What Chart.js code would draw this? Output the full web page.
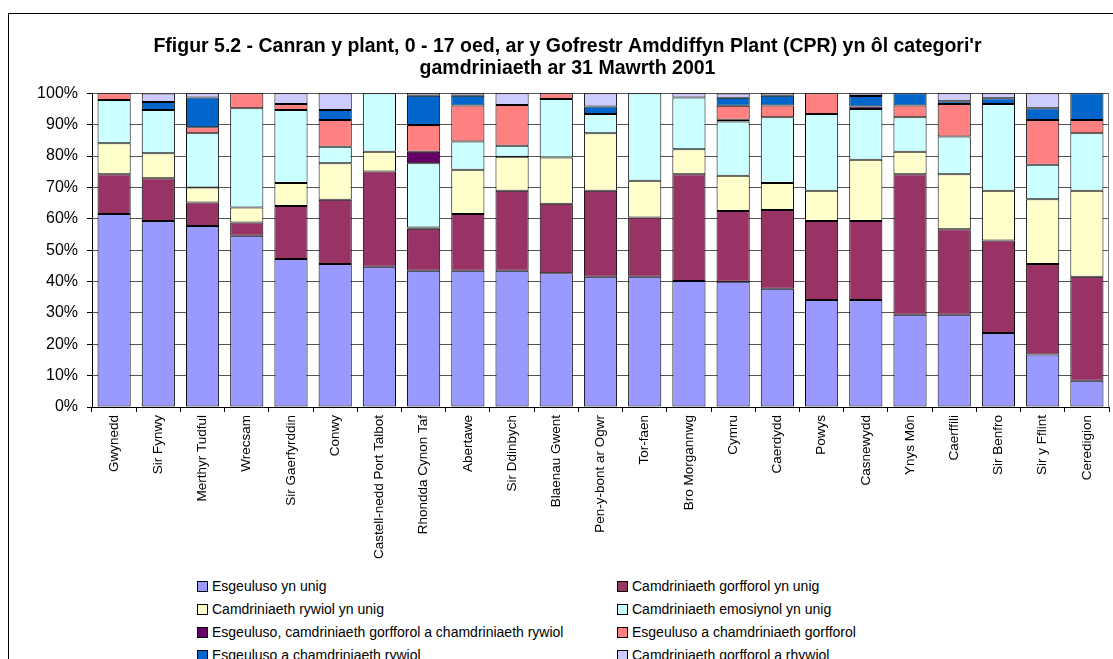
<!DOCTYPE html>
<html>
<head>
<meta charset="utf-8">
<script src="https://cdn.jsdelivr.net/npm/chart.js@4"></script>
<style>
html, body { margin: 0; padding: 0; background: #fff; overflow: hidden; }
body { width: 1113px; height: 659px; position: relative; font-family: "Liberation Sans", Arial, sans-serif; }
#frame { position: absolute; left: 8px; top: 13px; width: 1200px; height: 800px; border: 1px solid #000; box-sizing: border-box; }
#chart { position: absolute; left: 0; top: 0; }
.item { position: absolute; font-size: 14px; line-height: 16px; color: #000; white-space: nowrap; }
.item .box { position: absolute; left: -15px; top: 3px; width: 9px; height: 9px; border: 1px solid #000; }
</style>
</head>
<body>
<div id="frame"></div>
<canvas id="chart" width="1113" height="575"></canvas>
<div id="legend"></div>
<script>
var categories = ['Gwynedd', 'Sir Fynwy', 'Merthyr Tudful', 'Wrecsam', 'Sir Gaerfyrddin', 'Conwy',
    'Castell-nedd Port Talbot', 'Rhondda Cynon Taf', 'Abertawe', 'Sir Ddinbych', 'Blaenau Gwent',
    'Pen-y-bont ar Ogwr', 'Tor-faen', 'Bro Morgannwg', 'Cymru', 'Caerdydd', 'Powys', 'Casnewydd',
    'Ynys Môn', 'Caerffili', 'Sir Benfro', 'Sir y Fflint', 'Ceredigion'];

var seriesNames = [
    'Esgeuluso yn unig',
    'Camdriniaeth gorfforol yn unig',
    'Camdriniaeth rywiol yn unig',
    'Camdriniaeth emosiynol yn unig',
    'Esgeuluso, camdriniaeth gorfforol a chamdriniaeth rywiol',
    'Esgeuluso a chamdriniaeth gorfforol',
    'Esgeuluso a chamdriniaeth rywiol',
    'Camdriniaeth gorfforol a rhywiol'
];

// percentages, one value per category
var esgeulusoUnig = [61.5, 59.3, 57.7, 54.6, 47.2, 45.6, 44.7, 43.4, 43.4, 43.4, 42.6, 41.5, 41.5, 40.2, 39.9, 37.7, 34.1, 34.1, 29.4, 29.4, 23.6, 16.7, 8.4];
var gorfforolUnig = [12.7, 13.6, 7.5, 4.2, 16.9, 20.5, 30.4, 13.4, 18.1, 25.5, 22.2, 27.4, 18.9, 34.0, 22.6, 25.1, 25.2, 25.2, 44.8, 27.3, 29.5, 28.9, 33.1];
var rywiolUnig = [9.9, 8.0, 4.8, 4.8, 7.3, 11.6, 6.3, 0.4, 14.1, 10.9, 14.7, 18.4, 11.7, 8.0, 11.2, 8.6, 9.6, 19.5, 7.2, 17.5, 15.8, 20.6, 27.4];
var emosiynolUnig = [13.8, 13.8, 17.3, 31.6, 23.3, 5.3, 18.6, 20.5, 9.0, 3.5, 18.7, 6.1, 27.9, 16.5, 17.3, 21.0, 24.5, 16.2, 11.0, 12.0, 27.7, 11.0, 18.4];
var esgGorfRyw = [0, 0, 0, 0, 0, 0, 0, 3.7, 0, 0, 0, 0, 0, 0, 0.6, 0, 0, 0.8, 0, 0, 0, 0, 0];
var esgGorfforol = [2.1, 0, 1.9, 4.8, 1.9, 8.5, 0, 8.5, 11.5, 13.0, 1.8, 0, 0, 0, 4.4, 3.7, 6.6, 0, 3.7, 10.4, 0, 14.3, 4.2];
var esgRywiol = [0, 2.5, 9.5, 0, 0, 3.2, 0, 9.3, 3.1, 0, 0, 2.4, 0, 0, 2.6, 3.1, 0, 3.3, 3.9, 0.9, 1.8, 3.7, 8.5];
var gorfRhywiol = [0, 2.7, 1.3, 0, 3.4, 5.3, 0, 0.8, 0.8, 3.7, 0, 4.2, 0, 1.3, 1.3, 0.8, 0, 0.8, 0, 2.5, 1.6, 4.8, 0];

var seriesData = [esgeulusoUnig, gorfforolUnig, rywiolUnig, emosiynolUnig, esgGorfRyw, esgGorfforol, esgRywiol, gorfRhywiol];
var seriesColors = ['#9999FF', '#993366', '#FFFFCC', '#CCFFFF', '#660066', '#FF8080', '#0066CC', '#CCCCFF'];

var yTicks = [0, 10, 20, 30, 40, 50, 60, 70, 80, 90, 100];

var datasets = seriesNames.map(function (name, i) {
    return {
        label: name,
        data: seriesData[i],
        backgroundColor: seriesColors[i],
        borderColor: '#000',
        borderWidth: 1,
        borderSkipped: false,
        categoryPercentage: 1.0,
        barPercentage: 0.75
    };
});

// gray right edge of the plot area
var plotBorder = {
    id: 'plotBorder',
    beforeDatasetsDraw: function (chart) {
        var a = chart.chartArea;
        var c = chart.ctx;
        c.save();
        c.strokeStyle = '#808080';
        c.lineWidth = 1;
        c.beginPath();
        c.moveTo(Math.round(a.right) - 0.5, a.top);
        c.lineTo(Math.round(a.right) - 0.5, a.bottom);
        c.stroke();
        c.restore();
    }
};

var ctx = document.getElementById('chart').getContext('2d');
var chart = new Chart(ctx, {
    type: 'bar',
    data: { labels: categories, datasets: datasets },
    plugins: [plotBorder],
    options: {
        responsive: false,
        animation: false,
        layout: { padding: { left: 26, right: 4, top: 0, bottom: 0 } },
        plugins: {
            legend: { display: false },
            tooltip: { enabled: false },
            title: {
                display: true,
                text: ["Ffigur 5.2 - Canran y plant, 0 - 17 oed, ar y Gofrestr Amddiffyn Plant (CPR) yn ôl categori'r",
                    'gamdriniaeth ar 31 Mawrth 2001'],
                color: '#000',
                font: { family: '"Liberation Sans", Arial, sans-serif', size: 19.5, weight: 'bold', lineHeight: 1.1 },
                padding: { top: 36, bottom: 14.4 }
            }
        },
        scales: {
            x: {
                stacked: true,
                grid: { drawOnChartArea: false, color: '#000', tickLength: 5, offset: true },
                border: { color: '#000', width: 1 },
                ticks: {
                    color: '#000',
                    autoSkip: false,
                    maxRotation: 90,
                    minRotation: 90,
                    padding: 3,
                    font: { family: '"Liberation Sans", Arial, sans-serif', size: 13.5 }
                },
                afterFit: function (scale) { scale.height = 168; }
            },
            y: {
                stacked: true,
                min: 0,
                max: 100,
                afterBuildTicks: function (scale) {
                    scale.ticks = yTicks.map(function (v) { return { value: v }; });
                },
                grid: { color: '#555', tickColor: '#000', tickLength: 5 },
                border: { color: '#000', width: 1 },
                ticks: {
                    color: '#000',
                    padding: 9,
                    font: { family: '"Liberation Sans", Arial, sans-serif', size: 16 },
                    callback: function (v) { return v + '%'; }
                },
                afterFit: function (scale) { scale.width = 66; }
            }
        }
    }
});

// legend in two columns, built from the chart's datasets
var legend = document.getElementById('legend');
var colX = [212, 632];
var rowY = [578, 601, 624, 647];
chart.data.datasets.forEach(function (ds, i) {
    var item = document.createElement('div');
    item.className = 'item';
    item.style.left = colX[i % 2] + 'px';
    item.style.top = rowY[Math.floor(i / 2)] + 'px';
    var box = document.createElement('span');
    box.className = 'box';
    box.style.background = ds.backgroundColor;
    item.appendChild(box);
    item.appendChild(document.createTextNode(ds.label));
    legend.appendChild(item);
});
</script>
</body>
</html>
